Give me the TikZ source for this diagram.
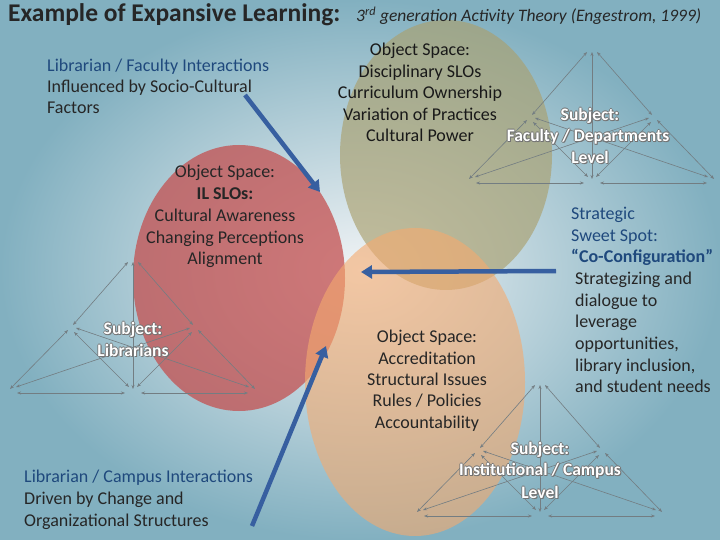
\documentclass[tikz,border=0pt]{standalone}
\usepackage{fontspec}
\setmainfont{Carlito}
\usetikzlibrary{arrows.meta}
\definecolor{bgout}{RGB}{130,176,192}
\definecolor{bgin}{RGB}{240,243,245}
\definecolor{redc}{RGB}{196,80,80}
\definecolor{olivec}{RGB}{170,160,110}
\definecolor{peachc}{RGB}{245,170,110}
\definecolor{navy}{RGB}{31,73,125}
\definecolor{barrow}{RGB}{55,95,160}
\definecolor{tri}{RGB}{115,125,130}
\begin{document}
\begin{tikzpicture}[x=1pt,y=-1pt,
  txt/.style={font=\fontsize{18}{20}\selectfont, inner sep=0pt, text=black!85},
  blu/.style={txt, text=navy},
  subj/.style={font=\fontsize{17.5}{19}\selectfont\bfseries, inner sep=0pt, text=white},
  subjs/.style={font=\fontsize{17.5}{19}\selectfont\bfseries, inner sep=0pt, text=black!55},
  tl/.style={draw=tri, line width=0.6pt, {Stealth[length=4pt,width=3pt]}-{Stealth[length=4pt,width=3pt]}},
  big/.style={draw=barrow, line width=4.5pt, -{Triangle[length=11pt,width=13pt]}}]
\useasboundingbox (0,0) rectangle (720,540);
\shade[inner color=bgin, outer color=bgout] (0,0) rectangle (720,540);
% ellipses
\fill[redc, opacity=0.75] (239,278) ellipse [x radius=106, y radius=133];
\fill[olivec, opacity=0.65] (446,155) ellipse [x radius=106, y radius=135];
\fill[peachc, opacity=0.6] (415,382) ellipse [x radius=110, y radius=154];
% triangles
\foreach \n/\cx/\cy in {L/133/262, R/592/52, B/540/385}{
  \coordinate (\n T) at (\cx,\cy);
  \coordinate (\n ML) at (\cx-60,\cy+63);
  \coordinate (\n MR) at (\cx+60,\cy+63);
  \coordinate (\n BL) at (\cx-121,\cy+127);
  \coordinate (\n BC) at (\cx,\cy+127);
  \coordinate (\n BR) at (\cx+120,\cy+127);
  \draw[tl] ([xshift=-5pt]\n T) -- (\n ML);
  \draw[tl] ([xshift=5pt]\n T) -- (\n MR);
  \draw[tl] (\n T) -- (\n BC);
  \draw[tl] ([shift={(-5,5)}]\n ML) -- ([shift={(-2,0)}]\n BL);
  \draw[tl] ([shift={(5,5)}]\n MR) -- ([shift={(2,0)}]\n BR);
  \draw[tl] ([shift={(1,7)}]\n ML) -- ([shift={(-4,-2)}]\n BC);
  \draw[tl] ([shift={(-1,7)}]\n MR) -- ([shift={(4,-2)}]\n BC);
  \draw[tl] ([shift={(3,3)}]\n ML) -- ([shift={(-4,-2)}]\n BR);
  \draw[tl] ([shift={(-3,3)}]\n MR) -- ([shift={(4,-2)}]\n BL);
  \draw[tl] ([shift={(5,4)}]\n BL) -- ([shift={(-8,4)}]\n BC);
  \draw[tl] ([shift={(8,4)}]\n BC) -- ([shift={(-5,4)}]\n BR);
}
% title
\node[anchor=base west, inner sep=0pt, font=\fontsize{25.5}{27}\selectfont\bfseries, text=black!85] (title) at (8,22) {Example of Expansive Learning:};
\node[anchor=base west, inner sep=0pt, font=\fontsize{17.5}{19}\selectfont\itshape, text=black!85] (sub) at (356,22) {3\textsuperscript{rd} generation Activity Theory (Engestrom, 1999)};
% left top text
\node[blu, anchor=base west] (lf1) at (47,72) {Librarian / Faculty Interactions};
\node[txt, anchor=base west] (lf2) at (47,93) {Influenced by Socio-Cultural};
\node[txt, anchor=base west] (lf3) at (47,114) {Factors};
% object disciplinary
\node[txt, align=center, anchor=north, text=black!90, font=\fontsize{18}{21.5}\selectfont] (od) at (420,43) {Object Space:\\Disciplinary SLOs\\Curriculum Ownership\\Variation of Practices\\Cultural Power};
% object IL
\node[txt, align=center, anchor=north, font=\fontsize{18}{21.8}\selectfont] (oil) at (225,165) {Object Space:\\\textbf{IL SLOs:}\\Cultural Awareness\\Changing Perceptions\\Alignment};
% object accreditation
\node[txt, align=center, anchor=north, font=\fontsize{18}{21.4}\selectfont] (oa) at (427,330) {Object Space:\\Accreditation\\Structural Issues\\Rules / Policies\\Accountability};
% right text
\node[anchor=north west, inner sep=0pt, align=left, text=navy, font=\fontsize{18}{21.6}\selectfont] (ss) at (571,207) {Strategic\\Sweet Spot:\\\textbf{“Co-Configuration”}};
\node[anchor=north west, inner sep=0pt, align=left, text=black!85, font=\fontsize{18}{21.6}\selectfont] (sd) at (575,272) {Strategizing and\\dialogue to\\leverage\\opportunities,\\library inclusion,\\and student needs};
% bottom left
\node[blu, anchor=base west] (lc1) at (24,482) {Librarian / Campus Interactions};
\node[txt, anchor=base west] (lc2) at (24,504) {Driven by Change and};
\node[txt, anchor=base west] (lc3) at (24,526) {Organizational Structures};
% subject labels
\foreach \t/\x/\y in {{Subject:}/133/330, {Librarians}/133/350, {Subject:}/590/116, {Faculty / Departments}/588/137, {Level}/590/157, {Subject:}/540/450, {Institutional / Campus}/540/471, {Level}/540/492}{
  \foreach \dx/\dy in {-0.8/0, 0.8/0, 0/-0.8, 0/0.8, 1/1}{
    \node[subjs] at (\x+\dx,\y+\dy) {\t};
  }
  \node[subj] at (\x,\y) {\t};
}
% big arrows
\coordinate (a1s) at (245,95); \coordinate (a1e) at (320,192);
\coordinate (a2s) at (252,526); \coordinate (a2e) at (326,346);
\coordinate (a3s) at (556,271); \coordinate (a3e) at (361,272);
\draw[big] (a1s) -- (a1e);
\draw[big] (a2s) -- (a2e);
\draw[big] (a3s) -- (a3e);
\end{tikzpicture}
\end{document}
